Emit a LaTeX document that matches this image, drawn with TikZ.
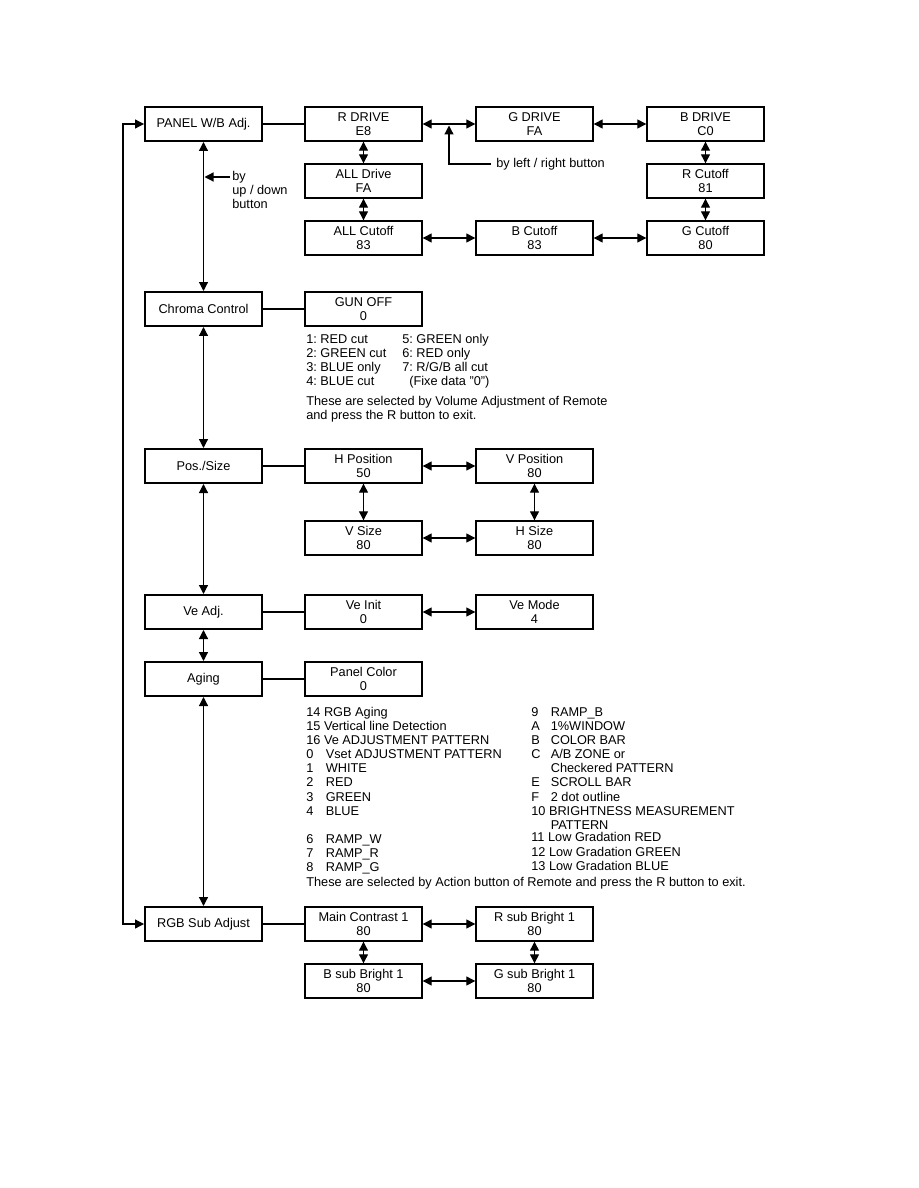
\documentclass[tikz,border=0pt]{standalone}
\usepackage{fontspec}
\setmainfont{Liberation Sans}
\usetikzlibrary{arrows.meta}
\frenchspacing
\newcommand\agitem[2]{\makebox[13pt][l]{#1}#2}
\tikzset{
  every node/.style={font=\fontsize{8.5}{9.3}\selectfont\frenchspacing},
  mainbox/.style={draw, line width=1.3pt, minimum width=78pt, minimum height=22.7pt, inner sep=0pt, align=center},
  subbox/.style={draw, line width=0.9pt, minimum width=78pt, minimum height=22.7pt, inner sep=0pt, align=center},
  txt/.style={anchor=west, inner sep=0pt, text height=6.2pt, text depth=1.8pt},
  conn/.style={line width=0.8pt},
  tip/.tip={Triangle[length=6pt,width=6pt]},
  biarrow/.style={conn, tip-tip},
  onearrow/.style={conn, -tip},
}
\begin{document}
\begin{tikzpicture}[x=0.6667pt, y=-0.6667pt]
\useasboundingbox (0,0) rectangle (918,1188);
% main column
\node[mainbox] (panel)  at (203.5,124) {PANEL W/B Adj.};
\node[mainbox] (chroma) at (203.5,309) {Chroma Control};
\node[mainbox] (pos)    at (203.5,466) {Pos./Size};
\node[mainbox] (ve)     at (203.5,612) {Ve Adj.};
\node[mainbox] (aging)  at (203.5,679) {Aging};
\node[mainbox] (rgb)    at (203.5,924) {RGB Sub Adjust};
% PANEL W/B group
\node[subbox] (rdrive)   at (363.5,124) {R DRIVE\\E8};
\node[subbox] (gdrive)   at (534.5,124) {G DRIVE\\FA};
\node[subbox] (bdrive)   at (705.5,124) {B DRIVE\\C0};
\node[subbox] (alldrive) at (363.5,181) {ALL Drive\\FA};
\node[subbox] (rcut)     at (705.5,181) {R Cutoff\\81};
\node[subbox] (allcut)   at (363.5,238) {ALL Cutoff\\83};
\node[subbox] (bcut)     at (534.5,238) {B Cutoff\\83};
\node[subbox] (gcut)     at (705.5,238) {G Cutoff\\80};
% chroma
\node[subbox] (gunoff) at (363.5,309) {GUN OFF\\0};
% pos/size
\node[subbox] (hpos)  at (363.5,466) {H Position\\50};
\node[subbox] (vpos)  at (534.5,466) {V Position\\80};
\node[subbox] (vsize) at (363.5,538) {V Size\\80};
\node[subbox] (hsize) at (534.5,538) {H Size\\80};
% ve adj
\node[subbox] (veinit) at (363.5,612) {Ve Init\\0};
\node[subbox] (vemode) at (534.5,612) {Ve Mode\\4};
% aging
\node[subbox] (pcolor) at (363.5,679) {Panel Color\\0};
% rgb sub adjust
\node[subbox] (maincon) at (363.5,924) {Main Contrast 1\\80};
\node[subbox] (rsub)    at (534.5,924) {R sub Bright 1\\80};
\node[subbox] (bsub)    at (363.5,981) {B sub Bright 1\\80};
\node[subbox] (gsub)    at (534.5,981) {G sub Bright 1\\80};

% left loop
\coordinate (lt) at (123,124);
\coordinate (lb) at (123,924);
\draw[biarrow] (panel.west) -- (lt) -- (lb) -- (rgb.west);
% main verticals
\draw[biarrow] (panel) -- (chroma);
\draw[biarrow] (chroma) -- (pos);
\draw[biarrow] (pos) -- (ve);
\draw[biarrow] (ve) -- (aging);
\draw[biarrow] (aging) -- (rgb);
% horizontal links
\draw[conn] (panel) -- (rdrive);
\draw[conn] (chroma) -- (gunoff);
\draw[conn] (pos) -- (hpos);
\draw[conn] (ve) -- (veinit);
\draw[conn] (aging) -- (pcolor);
\draw[conn] (rgb) -- (maincon);
% panel group arrows
\draw[biarrow] (rdrive) -- (gdrive);
\draw[biarrow] (gdrive) -- (bdrive);
\draw[biarrow] (bdrive) -- (rcut);
\draw[biarrow] (rcut) -- (gcut);
\draw[biarrow] (gcut) -- (bcut);
\draw[biarrow] (bcut) -- (allcut);
\draw[biarrow] (allcut) -- (alldrive);
\draw[biarrow] (alldrive) -- (rdrive);
% pos/size arrows
\draw[biarrow] (hpos) -- (vpos);
\draw[biarrow] (hpos) -- (vsize);
\draw[biarrow] (vpos) -- (hsize);
\draw[biarrow] (vsize) -- (hsize);
% ve arrows
\draw[biarrow] (veinit) -- (vemode);
% rgb arrows
\draw[biarrow] (maincon) -- (rsub);
\draw[biarrow] (maincon) -- (bsub);
\draw[biarrow] (rsub) -- (gsub);
\draw[biarrow] (bsub) -- (gsub);

% by left / right button
\node[txt] (lrtxt) at (496,164) {by left / right button};
\coordinate (lrend) at (491,164);
\coordinate (lrbend) at (449,164);
\coordinate (lrtop) at (449,125.5);
\draw[onearrow] (lrend) -- (lrbend) -- (lrtop);
% by up / down button
\node[txt] (ud1) at (232,177) {by};
\node[txt] (ud2) at (232,191) {up / down};
\node[txt] (ud3) at (232,205) {button};
\coordinate (udend) at (204.5,177);
\draw[onearrow] ([xshift=-1.5pt]ud1.west) -- (udend);

% chroma notes
\node[txt] (c1) at (306,340) {1: RED cut};
\node[txt] (c2) at (306,354) {2: GREEN cut};
\node[txt] (c3) at (306,368) {3: BLUE only};
\node[txt] (c4) at (306,382) {4: BLUE cut};
\node[txt] (c5) at (402,340) {5: GREEN only};
\node[txt] (c6) at (402,354) {6: RED only};
\node[txt] (c7) at (402,368) {7: R/G/B all cut};
\node[txt] (c8) at (409,382) {(Fixe data "0")};
\node[txt] (c9) at (306,402.5) {These are selected by Volume Adjustment of Remote};
\node[txt] (c10) at (306,416.5) {and press the R button to exit.};

% aging notes, left column
\node[txt] (a1)  at (306,712.7) {14 RGB Aging};
\node[txt] (a2)  at (306,726.7) {15 Vertical line Detection};
\node[txt] (a3)  at (306,740.7) {16 Ve ADJUSTMENT PATTERN};
\node[txt] (a4)  at (306,755)   {\agitem{0}{Vset ADJUSTMENT PATTERN}};
\node[txt] (a5)  at (306,769.3) {\agitem{1}{WHITE}};
\node[txt] (a6)  at (306,783.3) {\agitem{2}{RED}};
\node[txt] (a7)  at (306,797.7) {\agitem{3}{GREEN}};
\node[txt] (a8)  at (306,812.3) {\agitem{4}{BLUE}};
\node[txt] (a9)  at (306,840)   {\agitem{6}{RAMP\_W}};
\node[txt] (a10) at (306,854.3) {\agitem{7}{RAMP\_R}};
\node[txt] (a11) at (306,868.3) {\agitem{8}{RAMP\_G}};
% aging notes, right column
\node[txt] (b1)  at (531,712.7) {\agitem{9}{RAMP\_B}};
\node[txt] (b2)  at (531,726.7) {\agitem{A}{1\%WINDOW}};
\node[txt] (b3)  at (531,740.7) {\agitem{B}{COLOR BAR}};
\node[txt] (b4)  at (531,755)   {\agitem{C}{A/B ZONE or}};
\node[txt] (b5)  at (531,769.3) {\agitem{}{Checkered PATTERN}};
\node[txt] (b6)  at (531,783.3) {\agitem{E}{SCROLL BAR}};
\node[txt] (b7)  at (531,797.7) {\agitem{F}{2 dot outline}};
\node[txt] (b8)  at (531,812.3) {10 BRIGHTNESS MEASUREMENT};
\node[txt] (b9)  at (531,826)   {\agitem{}{PATTERN}};
\node[txt] (b10) at (531,838.3) {11 Low Gradation RED};
\node[txt] (b11) at (531,852.7) {12 Low Gradation GREEN};
\node[txt] (b12) at (531,866.7) {13 Low Gradation BLUE};
\node[txt] (a12) at (306,883.3) {These are selected by Action button of Remote and press the R button to exit.};
\end{tikzpicture}
\end{document}
